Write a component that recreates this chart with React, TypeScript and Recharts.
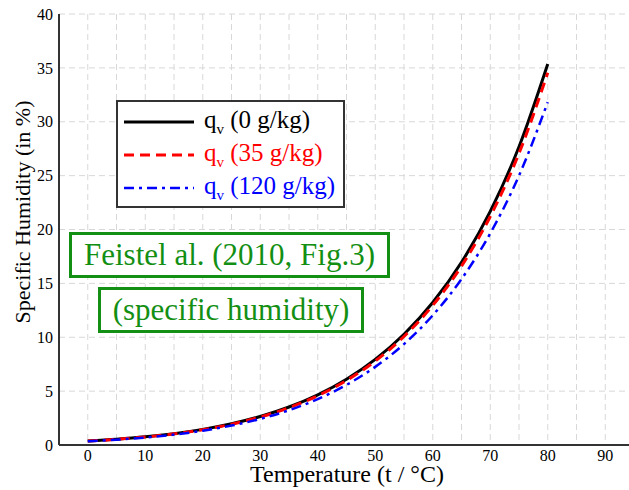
import { CartesianGrid, Label, Legend, Line, LineChart, XAxis, YAxis } from 'recharts'

// temperature (°C)
const temperatures = [0, 5, 10, 15, 20, 25, 30, 35, 40, 45, 50, 55, 60, 65, 70, 75, 80]
// specific humidity (%) for 0, 35 and 120 g/kg
const q0 = [0.376, 0.537, 0.757, 1.054, 1.449, 1.969, 2.649, 3.529, 4.661, 6.108, 7.948, 10.279, 13.229, 16.956, 21.676, 27.677, 35.36]
const q35 = [0.369, 0.527, 0.743, 1.034, 1.421, 1.931, 2.598, 3.461, 4.57, 5.988, 7.79, 10.072, 12.958, 16.601, 21.211, 27.065, 34.548]
const q120 = [0.344, 0.492, 0.694, 0.965, 1.326, 1.802, 2.423, 3.227, 4.26, 5.578, 7.251, 9.367, 12.036, 15.398, 19.638, 24.999, 31.816]

const xTicks = [-5, 0, 5, 10, 15, 20, 25, 30, 35, 40, 45, 50, 55, 60, 65, 70, 75, 80, 85, 90, 95]
const yTicks = [0, 5, 10, 15, 20, 25, 30, 35, 40]

const series = [
  { key: 'q0', label: '(0 g/kg)', color: '#000000', dash: undefined, width: 3 },
  { key: 'q35', label: '(35 g/kg)', color: '#ff0000', dash: '10 6', width: 3 },
  { key: 'q120', label: '(120 g/kg)', color: '#0000ff', dash: '10 5 3 5', width: 2.5 },
]

const font = 'Liberation Serif, serif'
const green = '#138f13'

const chartData = temperatures.map((t, i) => ({ t, q0: q0[i], q35: q35[i], q120: q120[i] }))

function LegendBox() {
  return (
    <div
      style={{
        border: '2px solid #333',
        background: '#fff',
        fontFamily: font,
        fontSize: 25,
        padding: '3px 0 4px 6px',
        boxSizing: 'border-box',
        width: 229,
        height: 108,
      }}
    >
      {series.map((s) => (
        <div key={s.key} style={{ display: 'flex', alignItems: 'center', height: 33, color: s.color }}>
          <svg width={70} height={10} style={{ marginRight: 10 }}>
            <line x1={0} y1={5} x2={70} y2={5} stroke={s.color} strokeWidth={s.width} strokeDasharray={s.dash} />
          </svg>
          <span style={{ whiteSpace: 'nowrap', fontFamily: font }}>
            q<sub style={{ fontSize: 15, verticalAlign: -6 }}>v</sub> {s.label}
          </span>
        </div>
      ))}
    </div>
  )
}

const boxStyle = {
  position: 'absolute' as const,
  border: `3px solid ${green}`,
  color: green,
  background: '#fff',
  fontFamily: font,
  fontSize: 31,
  boxSizing: 'border-box' as const,
  display: 'flex',
  alignItems: 'center',
  justifyContent: 'center',
  whiteSpace: 'nowrap' as const,
}

export default function App() {
  return (
    <div
      style={{
        position: 'absolute',
        left: 0,
        top: 0,
        width: 629,
        height: 490,
        overflow: 'hidden',
        background: '#fff',
        fontFamily: font,
      }}
    >
      <LineChart width={634} height={490} data={chartData} margin={{ top: 14, right: 0, bottom: 0, left: 0 }}>
        <CartesianGrid stroke="#d8d8d8" strokeDasharray="6 4" />
        <XAxis
          dataKey="t"
          type="number"
          domain={[-5, 95]}
          ticks={xTicks}
          interval={0}
          height={45}
          tickLine={false}
          tickSize={0}
          tickMargin={5}
          tickFormatter={(v: number) => (v >= 0 && v % 10 === 0 ? String(v) : '')}
          tick={{ fill: '#000', fontSize: 16, fontFamily: font }}
          axisLine={{ stroke: '#333', strokeWidth: 2 }}
        >
          <Label
            content={() => (
              <text x={347} y={482} textAnchor="middle" fontSize={24} fontFamily={font} fill="#000">
                Temperature (t / °C)
              </text>
            )}
          />
        </XAxis>
        <XAxis
          xAxisId="top"
          orientation="top"
          type="number"
          domain={[-5, 95]}
          height={0}
          tick={false}
          tickLine={false}
          axisLine={{ stroke: '#333', strokeWidth: 2 }}
        />
        <YAxis
          type="number"
          domain={[0, 40]}
          ticks={yTicks}
          interval={0}
          width={59}
          tickLine={false}
          tickSize={0}
          tickMargin={6}
          tick={{ fill: '#000', fontSize: 16, fontFamily: font }}
          axisLine={{ stroke: '#333', strokeWidth: 2 }}
        >
          <Label
            content={() => (
              <text
                x={30}
                y={212}
                transform="rotate(-90 30 212)"
                textAnchor="middle"
                fontSize={22}
                fontFamily={font}
                fill="#000"
              >
                Specific Humidity (in %)
              </text>
            )}
          />
        </YAxis>
        <Legend
          layout="vertical"
          align="center"
          verticalAlign="middle"
          wrapperStyle={{ position: 'absolute', left: 116, top: 100, width: 229, height: 108 }}
          content={() => <LegendBox />}
        />
        {series.map((s) => (
          <Line
            key={s.key}
            type="monotone"
            dataKey={s.key}
            stroke={s.color}
            strokeWidth={s.width}
            strokeDasharray={s.dash}
            dot={false}
            isAnimationActive={false}
          />
        ))}
      </LineChart>
      <div style={{ ...boxStyle, left: 69, top: 232, width: 321, height: 46 }}>Feistel al. (2010, Fig.3)</div>
      <div style={{ ...boxStyle, left: 98, top: 287, width: 266, height: 46 }}>(specific humidity)</div>
    </div>
  )
}
